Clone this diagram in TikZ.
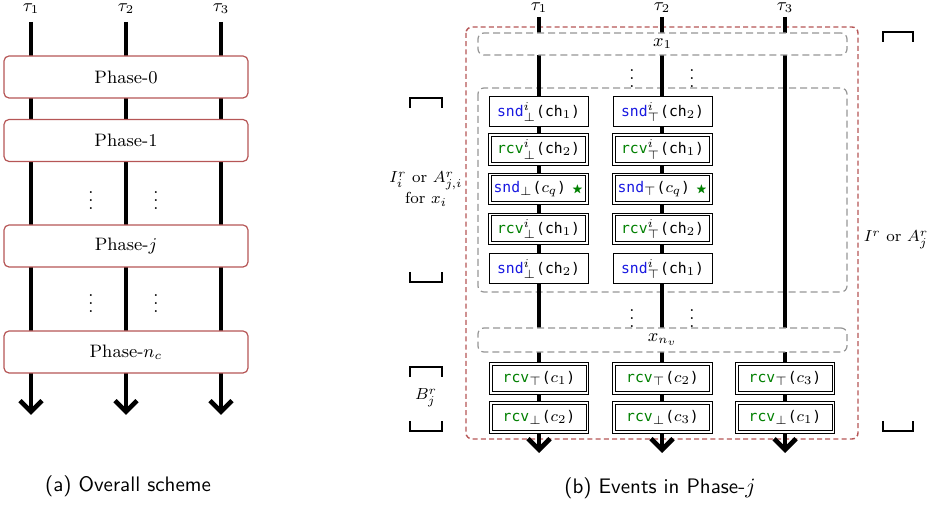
\documentclass[tikz,border=0pt]{standalone}
\usepackage{amsmath,amssymb}
\usepackage{fontspec}
\usetikzlibrary{arrows.meta}
\newfontfamily\codefont{DejaVu Sans Mono}[Scale=0.92]
\definecolor{phasered}{RGB}{182,86,86}
\definecolor{sndblue}{RGB}{25,25,225}
\definecolor{rcvgreen}{RGB}{0,128,0}
\definecolor{boxgray}{RGB}{150,150,150}
\newcommand\cSnd{\textcolor{sndblue}{\codefont snd}}
\newcommand\cRcv{\textcolor{rcvgreen}{\codefont rcv}}
\newcommand\cCh[1]{{\codefont ch}$_{#1}$}
\newcommand\cL{{\codefont(}}
\newcommand\cR{{\codefont)}}
\newcommand\cStar{\textcolor{rcvgreen}{\fontsize{5.5}{6}\selectfont$\bigstar$}}
\begin{document}
\begin{tikzpicture}[x=0.5pt,y=-0.5pt,
  every node/.style={font=\fontsize{9}{11}\selectfont},
  tau/.style={line width=2.3pt,-{Straight Barb[length=5.5pt,width=11pt]}},
  phase/.style={draw=phasered,line width=0.6pt,rounded corners=2.5pt,fill=white,minimum width=122pt,minimum height=21pt},
  evs/.style={draw,line width=0.5pt,fill=white,minimum width=49.5pt,minimum height=15pt,inner sep=0pt,font=\fontsize{8}{9}\selectfont},
  evd/.style={evs,double,double distance=0.8pt,minimum width=48.3pt,minimum height=14.3pt},
  grp/.style={draw=boxgray,line width=0.6pt,dash pattern=on 3.5pt off 2pt,rounded corners=3pt},
  grpbox/.style={grp,fill=white,minimum width=184.5pt,minimum height=11pt,inner sep=0pt},
  reddash/.style={draw=phasered,line width=0.7pt,dash pattern=on 2.5pt off 1.6pt,rounded corners=3pt},
  brk/.style={line width=1.3pt},
  dots/.style={inner sep=0pt},
  side/.style={font=\fontsize{8}{10.5}\selectfont,inner sep=1pt}
]
\useasboundingbox (0,0) rectangle (932,506);

% ---------------- (a) ----------------
\node (at1) at (31,9) {$\tau_1$};
\node (at2) at (126,9) {$\tau_2$};
\node (at3) at (221,9) {$\tau_3$};
\coordinate (as1) at (31,22);  \coordinate (ae1) at (31,415);
\coordinate (as2) at (126,22); \coordinate (ae2) at (126,415);
\coordinate (as3) at (221,22); \coordinate (ae3) at (221,415);
\draw[tau] (as1) -- (ae1);
\draw[tau] (as2) -- (ae2);
\draw[tau] (as3) -- (ae3);
\node[phase] (p0) at (126,77) {Phase-0};
\node[phase] (p1) at (126,140.5) {Phase-1};
\node[phase] (pj) at (126,246) {Phase-$j$};
\node[phase] (pn) at (126,352) {Phase-$n_c$};
\node[dots] (ad1) at (91,195) {$\vdots$};
\node[dots] (ad2) at (156,195) {$\vdots$};
\node[dots] (ad3) at (91,298) {$\vdots$};
\node[dots] (ad4) at (156,298) {$\vdots$};
\node (capa) at (128,486) {\fontsize{10.5}{12}\selectfont\sffamily (a) Overall scheme};

% ---------------- (b) ----------------
\draw[reddash] (466,27) rectangle (858,439);
\draw[grp] (478,88) rectangle (847,292);
\node[inner sep=0.5pt] (bt1) at (539,8) {$\tau_1$};
\node[inner sep=0.5pt] (bt2) at (662,8) {$\tau_2$};
\node[inner sep=0.5pt] (bt3) at (785,8) {$\tau_3$};
\coordinate (bs1) at (539,17); \coordinate (be1) at (539,453);
\coordinate (bs2) at (662,17); \coordinate (be2) at (662,453);
\coordinate (bs3) at (785,17); \coordinate (be3) at (785,453);
\draw[tau] (bs1) -- (be1);
\draw[tau] (bs2) -- (be2);
\draw[tau] (bs3) -- (be3);

\node[grpbox] (x1) at (662.5,44) {$x_1$};
\node[grpbox,minimum height=12pt] (xn) at (662.5,340) {$x_{n_v}$};
\node[dots] (bd1) at (632,73) {$\vdots$};
\node[dots] (bd2) at (692,73) {$\vdots$};
\node[dots] (bd3) at (632,313) {$\vdots$};
\node[dots] (bd4) at (692,313) {$\vdots$};

% events, column 1
\node[evs] (e11) at (538.5,112)   {\cSnd$^i_\bot$\cL\cCh{1}\cR};
\node[evd] (e12) at (538.5,149.5) {\cRcv$^i_\bot$\cL\cCh{2}\cR};
\node[evd] (e13) at (538.5,189)   {\cSnd$_\bot$\cL$c_q$\cR\ \cStar};
\node[evd] (e14) at (538.5,229)   {\cRcv$^i_\bot$\cL\cCh{1}\cR};
\node[evs] (e15) at (538.5,269)   {\cSnd$^i_\bot$\cL\cCh{2}\cR};
% events, column 2
\node[evs] (e21) at (662.5,112)   {\cSnd$^i_\top$\cL\cCh{2}\cR};
\node[evd] (e22) at (662.5,149.5) {\cRcv$^i_\top$\cL\cCh{1}\cR};
\node[evd] (e23) at (662.5,189)   {\cSnd$_\top$\cL$c_q$\cR\ \cStar};
\node[evd] (e24) at (662.5,229)   {\cRcv$^i_\top$\cL\cCh{2}\cR};
\node[evs] (e25) at (662.5,269)   {\cSnd$^i_\top$\cL\cCh{1}\cR};
% B rows
\node[evd] (f11) at (539,378.5)   {\cRcv$_\top$\cL$c_1$\cR};
\node[evd] (f21) at (662.5,378.5) {\cRcv$_\top$\cL$c_2$\cR};
\node[evd] (f31) at (785,378.5)   {\cRcv$_\top$\cL$c_3$\cR};
\node[evd] (f12) at (539,417.5)   {\cRcv$_\bot$\cL$c_2$\cR};
\node[evd] (f22) at (662.5,417.5) {\cRcv$_\bot$\cL$c_3$\cR};
\node[evd] (f32) at (785,417.5)   {\cRcv$_\bot$\cL$c_1$\cR};

% brackets
\draw[brk] (410,108) -- (410,98) -- (442,98) -- (442,108);
\draw[brk] (410,272) -- (410,282) -- (442,282) -- (442,272);
\draw[brk] (410,377) -- (410,367) -- (442,367) -- (442,377);
\draw[brk] (410,421) -- (410,431) -- (442,431) -- (442,421);
\draw[brk] (883,42) -- (883,32) -- (913,32) -- (913,42);
\draw[brk] (883,421) -- (883,431) -- (913,431) -- (913,421);

\node[side,align=center] (lbi) at (426,189) {$I^r_i$ or $A^r_{j,i}$\\ for $x_i$};
\node[side] (lbb) at (426,398) {$B^r_j$};
\node[side] (lir) at (896,240) {$I^r$ or $A^r_j$};

\node (capb) at (660,488) {\fontsize{10.5}{12}\selectfont\sffamily (b) Events in Phase-$j$};
\end{tikzpicture}
\end{document}
